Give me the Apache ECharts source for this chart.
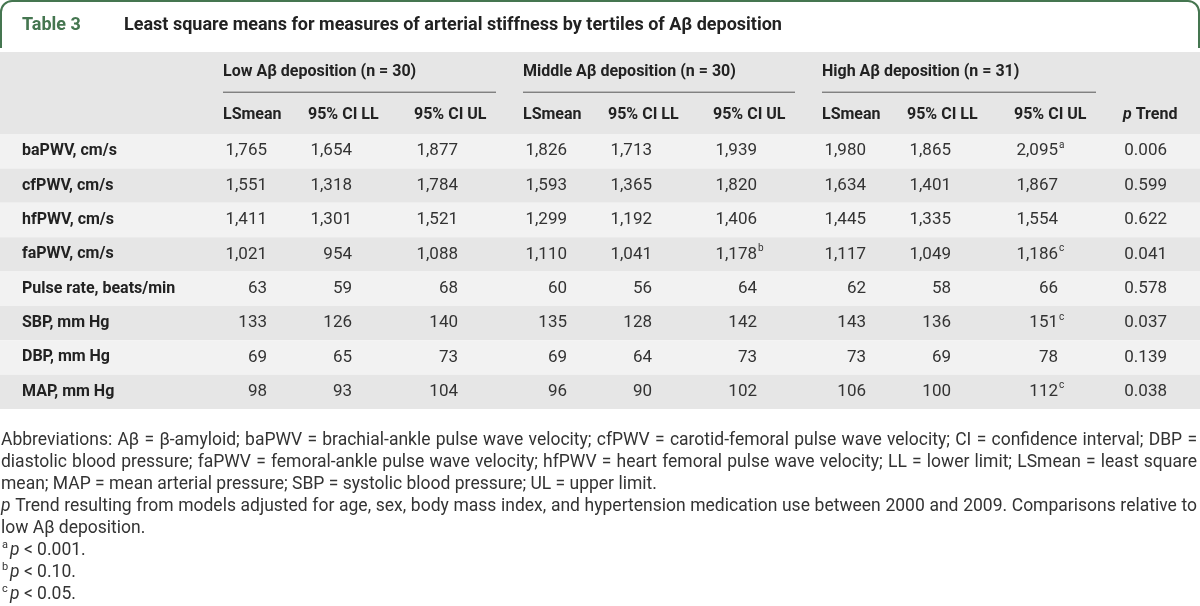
<!DOCTYPE html>
<html><head><meta charset="utf-8">
<script src="https://cdn.jsdelivr.net/npm/echarts@6/dist/echarts.min.js"></script>
<style>html,body{margin:0;padding:0;background:#fff}#c{width:1200px;height:606px}</style>
</head><body><div id="c"></div>
<script>
// ---------- data ----------
const rowLabels = ['baPWV, cm/s', 'cfPWV, cm/s', 'hfPWV, cm/s', 'faPWV, cm/s', 'Pulse rate, beats/min', 'SBP, mm Hg', 'DBP, mm Hg', 'MAP, mm Hg'];
const groupLabels = ['Low Aβ deposition (n = 30)', 'Middle Aβ deposition (n = 30)', 'High Aβ deposition (n = 31)'];
const columnLabels = ['LSmean', '95% CI LL', '95% CI UL', 'LSmean', '95% CI LL', '95% CI UL', 'LSmean', '95% CI LL', '95% CI UL', '{i|p} Trend'];
const lowLSmean  = [1765, 1551, 1411, 1021, 63, 133, 69, 98];
const lowLL      = [1654, 1318, 1301, 954, 59, 126, 65, 93];
const lowUL      = [1877, 1784, 1521, 1088, 68, 140, 73, 104];
const midLSmean  = [1826, 1593, 1299, 1110, 60, 135, 69, 96];
const midLL      = [1713, 1365, 1192, 1041, 56, 128, 64, 90];
const midUL      = [1939, 1820, 1406, 1178, 64, 142, 73, 102];
const highLSmean = [1980, 1634, 1445, 1117, 62, 143, 73, 106];
const highLL     = [1865, 1401, 1335, 1049, 58, 136, 69, 100];
const highUL     = [2095, 1867, 1554, 1186, 66, 151, 78, 112];
const pTrend     = [0.006, 0.599, 0.622, 0.041, 0.578, 0.037, 0.139, 0.038];
const markers = [
  { row: 0, col: 8, mark: 'a' },
  { row: 3, col: 5, mark: 'b' },
  { row: 3, col: 8, mark: 'c' },
  { row: 5, col: 8, mark: 'c' },
  { row: 7, col: 8, mark: 'c' }
];
const titleLabel = 'Table 3';
const titleText = 'Least square means for measures of arterial stiffness by tertiles of Aβ deposition';
const footnoteLines = [
  { sup: '', justify: true, text: 'Abbreviations: Aβ = β-amyloid; baPWV = brachial-ankle pulse wave velocity; cfPWV = carotid-femoral pulse wave velocity; CI = confidence interval; DBP =' },
  { sup: '', justify: true, text: 'diastolic blood pressure; faPWV = femoral-ankle pulse wave velocity; hfPWV = heart femoral pulse wave velocity; LL = lower limit; LSmean = least square' },
  { sup: '', justify: false, text: 'mean; MAP = mean arterial pressure; SBP = systolic blood pressure; UL = upper limit.' },
  { sup: '', justify: true, text: '{i|p} Trend resulting from models adjusted for age, sex, body mass index, and hypertension medication use between 2000 and 2009. Comparisons relative to' },
  { sup: '', justify: false, text: 'low Aβ deposition.' },
  { sup: 'a', justify: false, text: '{i|p} < 0.001.' },
  { sup: 'b', justify: false, text: '{i|p} < 0.10.' },
  { sup: 'c', justify: false, text: '{i|p} < 0.05.' }
];

// ---------- layout / style ----------
const FONT = 'Roboto, "Liberation Sans", sans-serif';
const NOTE_SIZE = 17.5;
const DATA_SIZE = 17;
const colRightOffset = [22, 7, 13, 22, 7, 12, 21, 6, 13, 22]; // right edge of numbers relative to band centre
const rowColors = ['#f2f2f2', '#e6e6e6'];
const green = '#457650';
const textColor = '#333';

const columns = [lowLSmean, lowLL, lowUL, midLSmean, midLL, midUL, highLSmean, highLL, highUL, pTrend];
function fmt(v, c) {
  if (c === 9) return v.toFixed(3);
  return v >= 1000 ? v.toLocaleString('en-US') : String(v);
}
const cellData = [];
columns.forEach((arr, c) => arr.forEach((v, r) => {
  const m = markers.find(k => k.row === r && k.col === c);
  cellData.push([c, r, fmt(v, c), m ? m.mark : '']);
}));
const colIdx = columnLabels.map((_, i) => i);

const chart = echarts.init(document.getElementById('c'), null, { renderer: 'canvas' });

const borderStyle = { stroke: green, lineWidth: 2, fill: null };
const graphics = [
  { type: 'polyline', shape: { points: [[1, 48], [1, 12]] }, style: borderStyle, z: 10 },
  { type: 'arc', shape: { cx: 12, cy: 12, r: 11, startAngle: Math.PI, endAngle: Math.PI * 1.5 }, style: borderStyle, z: 10 },
  { type: 'polyline', shape: { points: [[12, 1], [1188, 1]] }, style: borderStyle, z: 10 },
  { type: 'arc', shape: { cx: 1188, cy: 12, r: 11, startAngle: Math.PI * 1.5, endAngle: Math.PI * 2 }, style: borderStyle, z: 10 },
  { type: 'polyline', shape: { points: [[1199, 12], [1199, 48]] }, style: borderStyle, z: 10 },
  { type: 'text', x: 22, y: 25, style: { text: titleLabel, font: 'bold 18px ' + FONT, fill: green, verticalAlign: 'middle' }, z: 10 },
  { type: 'text', x: 124, y: 25, style: { text: titleText, font: 'bold 18px ' + FONT, fill: '#222', verticalAlign: 'middle' }, z: 10 },
  { type: 'rect', shape: { x: 0, y: 52, width: 1200, height: 82 }, style: { fill: '#e6e6e6' }, z: -10 }
];

// measuring for justified footnote lines
const mctx = document.createElement('canvas').getContext('2d');
function measure(word) {
  if (word.indexOf('{i|') === 0) {
    mctx.font = 'italic ' + NOTE_SIZE + 'px ' + FONT;
    return mctx.measureText(word.replace(/\{i\|(.*?)\}/, '$1')).width;
  }
  mctx.font = NOTE_SIZE + 'px ' + FONT;
  return mctx.measureText(word).width;
}
const richNote = { i: { fontStyle: 'italic', fontSize: NOTE_SIZE, fontFamily: FONT, fill: textColor } };
function noteText(x, y, text) {
  return { type: 'text', x: x, y: y, z: 10,
    style: { text: text, font: NOTE_SIZE + 'px ' + FONT, fill: textColor, verticalAlign: 'middle', rich: richNote } };
}
const NOTE_RIGHT = 1197;
footnoteLines.forEach((l, i) => {
  const y = 441 + i * 22;
  let x = 1;
  if (l.sup) {
    graphics.push({ type: 'text', x: 2, y: y - 6, style: { text: l.sup, font: '11px ' + FONT, fill: textColor, verticalAlign: 'middle' }, z: 10 });
    x = 10;
  }
  if (l.justify) {
    const words = l.text.split(' ');
    const widths = words.map(measure);
    const total = widths.reduce((a, b) => a + b, 0);
    const gap = (NOTE_RIGHT - x - total) / (words.length - 1);
    let cx = x;
    words.forEach((w, k) => {
      graphics.push(noteText(cx, y, w));
      cx += widths[k] + gap;
    });
  } else {
    graphics.push(noteText(x, y, l.text));
  }
});

chart.setOption({
  animation: false,
  backgroundColor: '#fff',
  grid: { left: 195, right: 5, top: 134, height: 275, outerBoundsMode: 'none' },
  xAxis: { type: 'category', data: colIdx, show: false },
  yAxis: {
    type: 'category', data: rowLabels, inverse: true,
    axisLine: { show: false }, axisTick: { show: false }, splitLine: { show: false },
    axisLabel: { align: 'left', margin: 173, fontWeight: 'bold', fontSize: 16, color: '#222', fontFamily: FONT }
  },
  graphic: graphics,
  series: [
    { // row backgrounds
      type: 'custom', z: 0, silent: true,
      data: rowLabels.map((_, r) => [0, r]),
      renderItem(params, api) {
        const pt = api.coord([0, api.value(1)]);
        const h = api.size([0, 1])[1];
        return { type: 'rect', shape: { x: 0, y: pt[1] - h / 2, width: api.getWidth(), height: h },
          style: { fill: rowColors[api.value(1) % 2] } };
      }
    },
    { // group headers + underlines
      type: 'custom', z: 5, silent: true,
      data: groupLabels.map((g, i) => [i * 3, 0]),
      renderItem(params, api) {
        const c0 = api.value(0);
        const p0 = api.coord([c0, 0]);
        const p2 = api.coord([c0 + 2, 0]);
        const x0 = p0[0] + colRightOffset[c0] - 44;
        const x1 = p2[0] + colRightOffset[c0 + 2] + 38;
        return { type: 'group', children: [
          { type: 'text', x: x0, y: p0[1] - 79, style: { text: groupLabels[params.dataIndex], font: 'bold 16px ' + FONT, fill: '#222', verticalAlign: 'middle' } },
          { type: 'line', shape: { x1: x0, y1: p0[1] - 59, x2: x1, y2: p0[1] - 59 }, style: { stroke: '#555', lineWidth: 1 } }
        ] };
      }
    },
    { // column headers
      type: 'custom', z: 5, silent: true,
      data: columnLabels.map((l, i) => [i, 0]),
      renderItem(params, api) {
        const c = api.value(0);
        const p = api.coord([c, 0]);
        return { type: 'text', x: p[0] + colRightOffset[c] - 44, y: p[1] - 36,
          style: { text: columnLabels[c], font: 'bold 16px ' + FONT, fill: '#222', verticalAlign: 'middle',
            rich: { i: { fontStyle: 'italic', fontWeight: 'bold', fontSize: 16, fontFamily: FONT, fill: '#222' } } } };
      }
    },
    { // cells
      type: 'custom', z: 5, silent: true,
      data: cellData,
      renderItem(params, api) {
        const d = cellData[params.dataIndex];
        const c = d[0], r = d[1];
        const p = api.coord([c, r]);
        const xr = p[0] + colRightOffset[c];
        const children = [
          { type: 'text', x: xr, y: p[1], style: { text: d[2], font: DATA_SIZE + 'px ' + FONT, fill: textColor, align: 'right', verticalAlign: 'middle' } }
        ];
        if (d[3]) children.push({ type: 'text', x: xr + 1, y: p[1] - 6, style: { text: d[3], font: '10px ' + FONT, fill: textColor, align: 'left', verticalAlign: 'middle' } });
        return { type: 'group', children };
      }
    }
  ]
});
</script></body></html>
